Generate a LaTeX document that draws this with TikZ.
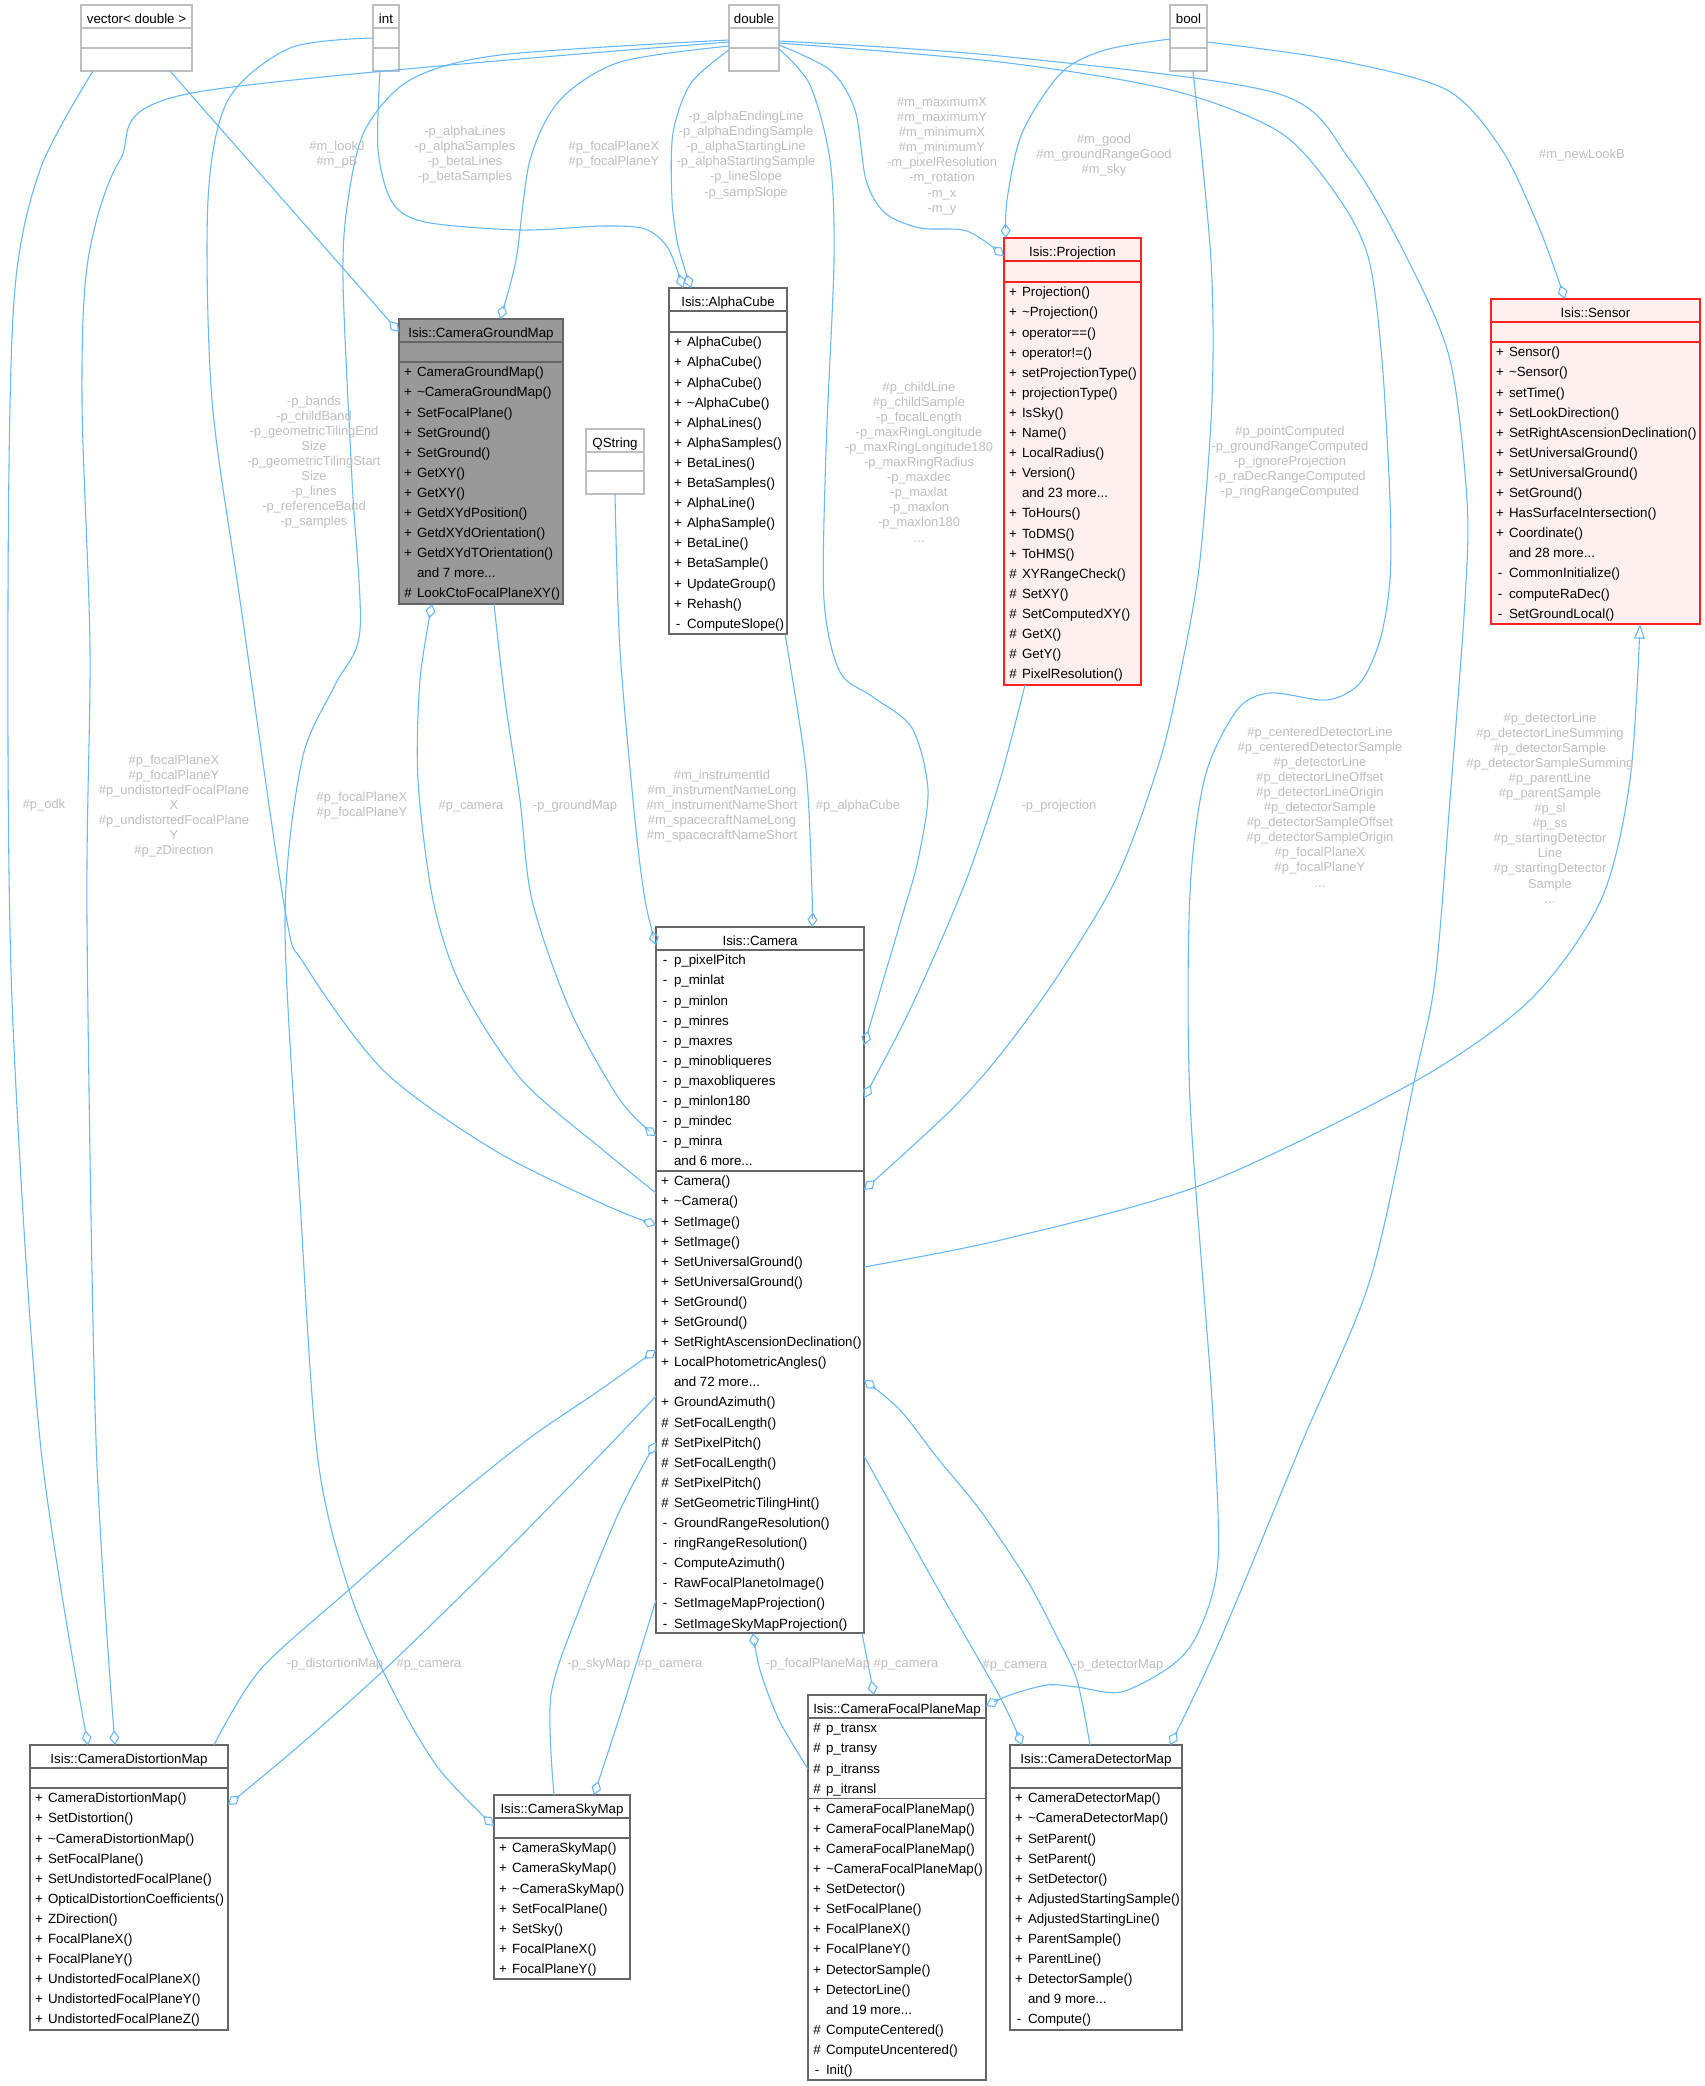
\documentclass[tikz,border=0pt]{standalone}
\usepackage{fontspec}
\setmainfont{Liberation Sans}
\usetikzlibrary{arrows.meta,fit}
\definecolor{edgec}{HTML}{63B8FF}
\definecolor{lblc}{HTML}{BEBEBE}
\definecolor{boxc}{HTML}{666666}
\definecolor{extc}{HTML}{BFBFBF}
\definecolor{redc}{HTML}{FF2020}
\definecolor{pinkc}{HTML}{FFF0F0}
\definecolor{hlc}{HTML}{999999}
\newcommand\mytilde{\char126\relax}
\newcommand\tdots{.\kern0pt.\kern0pt.}
\tikzset{
  cls/.style={draw=boxc, line width=1pt, fill=white},
  ext/.style={draw=extc, line width=1pt, fill=white},
  redcls/.style={draw=redc, line width=1.2pt, fill=pinkc},
  hlcls/.style={draw=boxc, line width=1pt, fill=hlc},
  sepcls/.style={draw=boxc, line width=1pt},
  sepext/.style={draw=extc, line width=1pt},
  sepred/.style={draw=redc, line width=1.2pt},
  rel/.style={draw=edgec, line width=0.8pt, -{Diamond[open,length=11pt,width=7.5pt]}},
  inh/.style={draw=edgec, line width=0.8pt, -{Triangle[open,length=11pt,width=8pt]}},
  lbl/.style={text=lblc, align=center, font=\fontsize{9.7}{11.3}\selectfont},
}
% \umlbox{name}{style}{x1}{y1}{x2}{y2}{title}
\newcommand\umlbox[7]{%
  \node[#2, fit={(#3,#4)(#5,#6)}] (#1) {};
  \node[anchor=base] (#1-t) at ({(#3+#5)/2},{#4+18.5}) {#7};
}
% \sepl{name}{style}{y}
\newcommand\sepl[3]{\draw[#2] (#1.west |- 0,#3) -- (#1.east |- 0,#3);}
% \mems{prefix}{x1}{sep}{list}
\newcommand\mems[4]{%
  \foreach \vs/\nm [count=\i] in {#4} {
    \node[anchor=base] (#1s\i) at ({#2+9},{#3+20.1*\i-5.3}) {\vs};
    \node[anchor=base west] (#1n\i) at ({#2+18},{#3+20.1*\i-5.3}) {\nm};
  }}
\begin{document}
\begin{tikzpicture}[x=0.75pt,y=-0.75pt,
  every node/.append style={font=\fontsize{10}{12}\selectfont, inner sep=0pt, outer sep=0pt}]
\useasboundingbox (0,0) rectangle (1705,2086);
\fill[white] (0,0) rectangle (1705,2086);

% ---------- boxes ----------
\umlbox{vec}{ext}{81}{5}{192}{71}{vector< double >}
\sepl{vec}{sepext}{28}\sepl{vec}{sepext}{48}
\umlbox{int}{ext}{373}{5}{399}{71}{int}
\sepl{int}{sepext}{28}\sepl{int}{sepext}{48}
\umlbox{dbl}{ext}{729}{5}{779}{71}{double}
\sepl{dbl}{sepext}{28}\sepl{dbl}{sepext}{48}
\umlbox{bool}{ext}{1170}{5}{1207}{71}{bool}
\sepl{bool}{sepext}{28}\sepl{bool}{sepext}{48}
\umlbox{qstr}{ext}{586}{429}{644}{494}{QString}
\sepl{qstr}{sepext}{452}\sepl{qstr}{sepext}{471}

\umlbox{cgm}{hlcls}{399}{319}{563}{604}{Isis::CameraGroundMap}
\sepl{cgm}{sepcls}{342}\sepl{cgm}{sepcls}{362}
\mems{cgm}{399}{362}{+/CameraGroundMap(), +/\mytilde CameraGroundMap(), +/SetFocalPlane(), +/SetGround(), +/SetGround(), +/GetXY(), +/GetXY(), +/GetdXYdPosition(), +/GetdXYdOrientation(), +/GetdXYdTOrientation(), /and 7 more\tdots, \#/LookCtoFocalPlaneXY()}

\umlbox{alpha}{cls}{669}{288}{787}{634}{Isis::AlphaCube}
\sepl{alpha}{sepcls}{311}\sepl{alpha}{sepcls}{332}
\mems{alp}{669}{332}{+/AlphaCube(), +/AlphaCube(), +/AlphaCube(), +/\mytilde AlphaCube(), +/AlphaLines(), +/AlphaSamples(), +/BetaLines(), +/BetaSamples(), +/AlphaLine(), +/AlphaSample(), +/BetaLine(), +/BetaSample(), +/UpdateGroup(), +/Rehash(), -/ComputeSlope()}

\umlbox{proj}{redcls}{1004}{238}{1141}{685}{Isis::Projection}
\sepl{proj}{sepred}{261}\sepl{proj}{sepred}{282}
\mems{prj}{1004}{282}{+/Projection(), +/\mytilde Projection(), +/operator==(), +/operator!=(), +/setProjectionType(), +/projectionType(), +/IsSky(), +/Name(), +/LocalRadius(), +/Version(), /and 23 more\tdots, +/ToHours(), +/ToDMS(), +/ToHMS(), \#/XYRangeCheck(), \#/SetXY(), \#/SetComputedXY(), \#/GetX(), \#/GetY(), \#/PixelResolution()}

\umlbox{sensor}{redcls}{1491}{299}{1700}{624}{Isis::Sensor}
\sepl{sensor}{sepred}{322}\sepl{sensor}{sepred}{342}
\mems{sen}{1491}{342}{+/Sensor(), +/\mytilde Sensor(), +/setTime(), +/SetLookDirection(), +/SetRightAscensionDeclination(), +/SetUniversalGround(), +/SetUniversalGround(), +/SetGround(), +/HasSurfaceIntersection(), +/Coordinate(), /and 28 more\tdots, -/CommonInitialize(), -/computeRaDec(), -/SetGroundLocal()}

\umlbox{cam}{cls}{656}{927}{864}{1633}{Isis::Camera}
\sepl{cam}{sepcls}{950}\sepl{cam}{sepcls}{1171}
\mems{cama}{656}{950}{-/p\_pixelPitch, -/p\_minlat, -/p\_minlon, -/p\_minres, -/p\_maxres, -/p\_minobliqueres, -/p\_maxobliqueres, -/p\_minlon180, -/p\_mindec, -/p\_minra, /and 6 more\tdots}
\mems{camm}{656}{1171}{+/Camera(), +/\mytilde Camera(), +/SetImage(), +/SetImage(), +/SetUniversalGround(), +/SetUniversalGround(), +/SetGround(), +/SetGround(), +/SetRightAscensionDeclination(), +/LocalPhotometricAngles(), /and 72 more\tdots, +/GroundAzimuth(), \#/SetFocalLength(), \#/SetPixelPitch(), \#/SetFocalLength(), \#/SetPixelPitch(), \#/SetGeometricTilingHint(), -/GroundRangeResolution(), -/ringRangeResolution(), -/ComputeAzimuth(), -/RawFocalPlanetoImage(), -/SetImageMapProjection(), -/SetImageSkyMapProjection()}

\umlbox{cdm}{cls}{30}{1745}{228}{2030}{Isis::CameraDistortionMap}
\sepl{cdm}{sepcls}{1768}\sepl{cdm}{sepcls}{1788}
\mems{cdm}{30}{1788}{+/CameraDistortionMap(), +/SetDistortion(), +/\mytilde CameraDistortionMap(), +/SetFocalPlane(), +/SetUndistortedFocalPlane(), +/OpticalDistortionCoefficients(), +/ZDirection(), +/FocalPlaneX(), +/FocalPlaneY(), +/UndistortedFocalPlaneX(), +/UndistortedFocalPlaneY(), +/UndistortedFocalPlaneZ()}

\umlbox{csm}{cls}{494}{1795}{630}{1979}{Isis::CameraSkyMap}
\sepl{csm}{sepcls}{1818}\sepl{csm}{sepcls}{1838}
\mems{csm}{494}{1838}{+/CameraSkyMap(), +/CameraSkyMap(), +/\mytilde CameraSkyMap(), +/SetFocalPlane(), +/SetSky(), +/FocalPlaneX(), +/FocalPlaneY()}

\umlbox{cfpm}{cls}{808}{1695}{986}{2080}{Isis::CameraFocalPlaneMap}
\sepl{cfpm}{sepcls}{1718}\sepl{cfpm}{sepcls}{1798.4}
\mems{cfpa}{808}{1718}{\#/p\_transx, \#/p\_transy, \#/p\_itranss, \#/p\_itransl}
\mems{cfpmm}{808}{1798.4}{+/CameraFocalPlaneMap(), +/CameraFocalPlaneMap(), +/CameraFocalPlaneMap(), +/\mytilde CameraFocalPlaneMap(), +/SetDetector(), +/SetFocalPlane(), +/FocalPlaneX(), +/FocalPlaneY(), +/DetectorSample(), +/DetectorLine(), /and 19 more\tdots, \#/ComputeCentered(), \#/ComputeUncentered(), -/Init()}

\umlbox{cdetm}{cls}{1010}{1745}{1182}{2030}{Isis::CameraDetectorMap}
\sepl{cdetm}{sepcls}{1768}\sepl{cdetm}{sepcls}{1788}
\mems{cdt}{1010}{1788}{+/CameraDetectorMap(), +/\mytilde CameraDetectorMap(), +/SetParent(), +/SetParent(), +/SetDetector(), +/AdjustedStartingSample(), +/AdjustedStartingLine(), +/ParentSample(), +/ParentLine(), +/DetectorSample(), /and 9 more\tdots, -/Compute()}

% ---------- connectors ----------
% vector<double>
\draw[rel] plot[smooth] coordinates {(vec.south -| 93,0) (40,170) (14,300) (8,600) (12,1000) (40,1440) (cdm.north -| 88,0)};
\draw[rel] (vec.south -| 170,0) -- (cgm.west |- 0,332);
% int
\draw[rel] plot[smooth] coordinates {(int.west |- 0,38) (290,48) (228,100) (208,200) (212,400) (241,607) (285,910) (305,965) (384,1071) (494,1150) (603,1204) (cam.west |- 0,1225)};
\draw[rel] plot[smooth] coordinates {(int.south -| 380,0) (378,150) (392,202) (425,222) (520,230) (603,226) (645,229) (668,248) (alpha.north -| 683,0)};
% double
\draw[rel] plot[smooth] coordinates {(dbl.west |- 0,42) (192,93) (120,160) (88,260) (82,400) (90,650) (87,920) (96,1440) (cdm.north -| 115,0)};
\draw[rel] plot[smooth] coordinates {(dbl.west |- 0,40) (500,55) (410,80) (365,130) (348,200) (343,280) (352,480) (360,630) (335,685) (302,760) (285,920) (300,1200) (318,1460) (351,1596) (395,1695) (439,1769) (csm.west |- 0,1826)};
\draw[rel] plot[smooth] coordinates {(dbl.west |- 0,46) (620,62) (560,100) (530,160) (516,260) (cgm.north -| 500,0)};
\draw[rel] plot[smooth] coordinates {(dbl.west |- 0,50) (691,83) (673,133) (672,200) (678,245) (alpha.north -| 691,0)};
\draw[rel] plot[smooth] coordinates {(dbl.east |- 0,49) (810,85) (830,160) (834,260) (826,450) (824,600) (840,672) (873,697) (912,728) (928,790) (918,860) (901,920) (cam.east |- 0,1045)};
\draw[rel] plot[smooth] coordinates {(dbl.east |- 0,45) (830,70) (855,110) (866,180) (885,213) (920,228) (967,231) (proj.west |- 0,256)};
\draw[rel] plot[smooth] coordinates {(dbl.east |- 0,43) (1000,62) (1171,90) (1281,133) (1340,200) (1369,260) (1382,360) (1390,500) (1390,580) (1380,640) (1360,683) (1327,700) (1270,693) (1237,710) (1205,777) (1190,893) (1190,1100) (1212,1400) (1218,1560) (1198,1633) (1171,1666) (1121,1692) (1077,1687) (1047,1685) (1010,1695) (cfpm.east |- 0,1706)};
\draw[rel] plot[smooth] coordinates {(dbl.east |- 0,41) (1000,56) (1276,93) (1350,160) (1408,260) (1450,360) (1467,500) (1465,600) (1450,800) (1435,980) (1414,1082) (1370,1280) (1303,1440) (1220,1640) (cdetm.north -| 1170,0)};
% bool
\draw[rel] plot[smooth] coordinates {(bool.west |- 0,39) (1105,50) (1061,73) (1022,133) (1007,200) (proj.north -| 1006,0)};
\draw[rel] plot[smooth] coordinates {(bool.south -| 1193,0) (1211,260) (1212,400) (1200,560) (1183,660) (1160,760) (1117,877) (1057,977) (1000,1055) (950,1111) (cam.east |- 0,1190)};
\draw[rel] plot[smooth] coordinates {(bool.east |- 0,42) (1336,60) (1447,90) (1502,150) (1540,230) (sensor.north -| 1565,0)};
% projection, alphacube, qstring
\draw[rel] plot[smooth] coordinates {(proj.south -| 1025,0) (1000,780) (970,870) (940,943) (905,1020) (cam.east |- 0,1098)};
\draw[rel] plot[smooth] coordinates {(alpha.south -| 785,0) (806,770) (812,892) (cam.north -| 812,0)};
\draw[rel] plot[smooth] coordinates {(qstr.south -| 615,0) (620,650) (635,820) (645,900) (cam.west |- 0,945)};
% camera ground map
\draw[rel] plot[smooth] coordinates {(cgm.south -| 494,0) (505,700) (520,800) (532,900) (570,1010) (620,1100) (cam.west |- 0,1136)};
\draw[rel] plot[smooth] coordinates {(cam.west |- 0,1193) (603,1150) (521,1079) (461,986) (433,900) (418,780) (420,680) (cgm.south -| 432,0)};
% distortion map
\draw[rel] plot[smooth] coordinates {(cdm.north -| 214,0) (260,1670) (351,1588) (440,1510) (527,1440) (600,1390) (cam.west |- 0,1350)};
\draw[rel] plot[smooth] coordinates {(cam.west |- 0,1396) (600,1455) (494,1563) (384,1670) (300,1745) (cdm.east |- 0,1805)};
% sky map
\draw[rel] plot[smooth] coordinates {(csm.north -| 554,0) (551,1695) (581,1605) (620,1510) (cam.west |- 0,1442)};
\draw[rel] plot[smooth] coordinates {(cam.west |- 0,1600) (625,1700) (csm.north -| 594,0)};
% focal plane map
\draw[rel] plot[smooth] coordinates {(cfpm.west |- 0,1769) (779,1720) (760,1670) (cam.south -| 753,0)};
\draw[rel] (cam.south -| 862,0) -- (cfpm.north -| 874,0);
% detector map
\draw[rel] plot[smooth] coordinates {(cam.east |- 0,1456) (933,1580) (1000,1697) (cdetm.north -| 1022,0)};
\draw[rel] plot[smooth] coordinates {(cdetm.north -| 1090,0) (1077,1680) (1057,1637) (1027,1580) (980,1510) (939,1460) (900,1410) (cam.east |- 0,1380)};
% inheritance
\draw[inh] plot[smooth] coordinates {(cam.east |- 0,1267) (1005,1239) (1204,1184) (1414,1082) (1530,1000) (1601,900) (1630,780) (sensor.south -| 1640,0)};

% ---------- labels ----------
\node[lbl] (l1) at (44,805) {\#p\_odk};
\node[lbl] (l2) at (337,155) {\#m\_lookJ\\\#m\_pB};
\node[lbl] (l3) at (314,462) {-p\_bands\\-p\_childBand\\-p\_geometricTilingEnd\\Size\\-p\_geometricTilingStart\\Size\\-p\_lines\\-p\_referenceBand\\-p\_samples};
\node[lbl] (l4) at (465,155) {-p\_alphaLines\\-p\_alphaSamples\\-p\_betaLines\\-p\_betaSamples};
\node[lbl] (l5) at (174,806) {\#p\_focalPlaneX\\\#p\_focalPlaneY\\\#p\_undistortedFocalPlane\\X\\\#p\_undistortedFocalPlane\\Y\\\#p\_zDirection};
\node[lbl] (l6) at (362,806) {\#p\_focalPlaneX\\\#p\_focalPlaneY};
\node[lbl] (l7) at (614,155) {\#p\_focalPlaneX\\\#p\_focalPlaneY};
\node[lbl] (l8) at (746,155) {-p\_alphaEndingLine\\-p\_alphaEndingSample\\-p\_alphaStartingLine\\-p\_alphaStartingSample\\-p\_lineSlope\\-p\_sampSlope};
\node[lbl] (l9) at (919,462) {\#p\_childLine\\\#p\_childSample\\-p\_focalLength\\-p\_maxRingLongitude\\-p\_maxRingLongitude180\\-p\_maxRingRadius\\-p\_maxdec\\-p\_maxlat\\-p\_maxlon\\-p\_maxlon180\\...};
\node[lbl] (l10) at (942,156) {\#m\_maximumX\\\#m\_maximumY\\\#m\_minimumX\\\#m\_minimumY\\-m\_pixelResolution\\-m\_rotation\\-m\_x\\-m\_y};
\node[lbl] (l11) at (1104,155) {\#m\_good\\\#m\_groundRangeGood\\\#m\_sky};
\node[lbl] (l12) at (1290,462) {\#p\_pointComputed\\-p\_groundRangeComputed\\-p\_ignoreProjection\\-p\_raDecRangeComputed\\-p\_ringRangeComputed};
\node[lbl] (l13) at (1582,155) {\#m\_newLookB};
\node[lbl] (l14) at (1320,807) {\#p\_centeredDetectorLine\\\#p\_centeredDetectorSample\\\#p\_detectorLine\\\#p\_detectorLineOffset\\\#p\_detectorLineOrigin\\\#p\_detectorSample\\\#p\_detectorSampleOffset\\\#p\_detectorSampleOrigin\\\#p\_focalPlaneX\\\#p\_focalPlaneY\\...};
\node[lbl] (l15) at (1550,808) {\#p\_detectorLine\\\#p\_detectorLineSumming\\\#p\_detectorSample\\\#p\_detectorSampleSumming\\\#p\_parentLine\\\#p\_parentSample\\\#p\_sl\\\#p\_ss\\\#p\_startingDetector\\Line\\\#p\_startingDetector\\Sample\\...};
\node[lbl] (l16) at (1059,806) {-p\_projection};
\node[lbl] (l17) at (858,806) {\#p\_alphaCube};
\node[lbl] (l18) at (722,806) {\#m\_instrumentId\\\#m\_instrumentNameLong\\\#m\_instrumentNameShort\\\#m\_spacecraftNameLong\\\#m\_spacecraftNameShort};
\node[lbl] (l19) at (575,806) {-p\_groundMap};
\node[lbl] (l20) at (471,806) {\#p\_camera};
\node[lbl] (l21) at (335,1664) {-p\_distortionMap};
\node[lbl] (l22) at (429,1664) {\#p\_camera};
\node[lbl] (l23) at (599,1664) {-p\_skyMap};
\node[lbl] (l24) at (670,1664) {\#p\_camera};
\node[lbl] (l25) at (818,1664) {-p\_focalPlaneMap};
\node[lbl] (l26) at (906,1664) {\#p\_camera};
\node[lbl] (l27) at (1015,1665) {\#p\_camera};
\node[lbl] (l28) at (1118,1665) {-p\_detectorMap};
\end{tikzpicture}
\end{document}
